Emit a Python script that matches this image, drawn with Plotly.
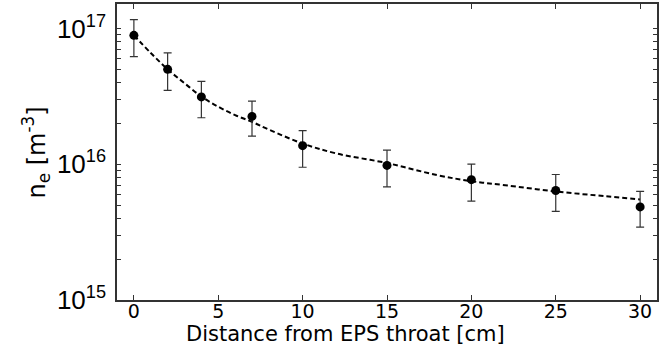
import plotly.graph_objects as go

# Measured data
distance_cm = [0, 2, 4, 7, 10, 15, 20, 25, 30]
ne_m3 = [8.9e16, 5.0e16, 3.13e16, 2.25e16, 1.37e16, 9.8e15, 7.7e15, 6.4e15, 4.85e15]
err_upper = [1.16e17, 6.6e16, 4.07e16, 2.92e16, 1.77e16, 1.27e16, 1.0e16, 8.4e15, 6.3e15]
err_lower = [6.2e16, 3.5e16, 2.2e16, 1.61e16, 9.5e15, 6.8e15, 5.35e15, 4.5e15, 3.44e15]

# Fitted (dashed) curve
fit_x = [0, 1, 2, 3, 4, 5, 6, 7, 8, 10, 12, 15, 18, 20, 22, 25, 28, 30]
fit_y = [8.9e16, 6.6e16, 5.0e16, 3.95e16, 3.15e16, 2.65e16, 2.3e16, 2.05e16, 1.8e16,
         1.42e16, 1.2e16, 1.02e16, 8.3e15, 7.5e15, 7.0e15, 6.3e15, 5.8e15, 5.5e15]

x_ticks = [0, 5, 10, 15, 20, 25, 30]
y_major = [1e15, 1e16, 1e17]
y_major_text = ["10<sup>15</sup>", "10<sup>16</sup>", "10<sup>17</sup>"]
y_minor = [m * d for d in [1e15, 1e16] for m in range(2, 10)]

plus = [u - v for u, v in zip(err_upper, ne_m3)]
minus = [v - l for v, l in zip(ne_m3, err_lower)]

fig = go.Figure()
fig.add_trace(go.Scatter(
    x=fit_x, y=fit_y, mode="lines",
    line=dict(color="black", width=2, dash="5px,3px", shape="spline"),
    showlegend=False, hoverinfo="skip"))
fig.add_trace(go.Scatter(
    x=distance_cm, y=ne_m3, mode="markers",
    marker=dict(color="black", size=9),
    error_y=dict(type="data", symmetric=False, array=plus, arrayminus=minus,
                 color="#333333", thickness=1.2, width=4),
    showlegend=False))

xtick_font = dict(family="DejaVu Sans, Arial, sans-serif", size=19, color="black")
xtitle_font = dict(family="DejaVu Sans, Arial, sans-serif", size=21, color="black")
ytick_font = dict(family="Liberation Sans, Arial, sans-serif", size=26, color="black")
ytitle_font = dict(family="DejaVu Sans, Arial, sans-serif", size=24, color="black")

fig.update_layout(
    width=659, height=363,
    margin=dict(l=117, r=0, t=4, b=63),
    paper_bgcolor="white", plot_bgcolor="white",
    font=xtick_font,
    xaxis=dict(range=[-1, 31], tickvals=x_ticks, ticks="inside", ticklen=5,
               tickcolor="#333", showline=True, linecolor="#333", linewidth=1.5,
               mirror="ticks", showgrid=False, zeroline=False, tickfont=xtick_font,
               ticklabelstandoff=-7),
    yaxis=dict(type="log", range=[15, 17.18], tickvals=y_major, ticktext=y_major_text,
               ticks="inside", ticklen=4, tickcolor="#333", showline=True,
               linecolor="#333", linewidth=1.5, mirror="ticks", showgrid=False,
               zeroline=False, tickfont=ytick_font, ticklabelstandoff=4,
               minor=dict(tickvals=y_minor, ticks="inside", ticklen=4,
                          tickcolor="#333", showgrid=False)),
    annotations=[
        dict(text="Distance from EPS throat [cm]", xref="paper", yref="paper",
             x=0.4225, y=-0.114, xanchor="center", yanchor="middle",
             showarrow=False, font=xtitle_font),
        dict(text="n<sub>e</sub> [m<sup>-3</sup>]", xref="paper", yref="paper",
             x=-0.151, y=0.5, xanchor="center", yanchor="middle", textangle=-90,
             showarrow=False, font=ytitle_font),
    ],
)

fig.write_html("out.html")
